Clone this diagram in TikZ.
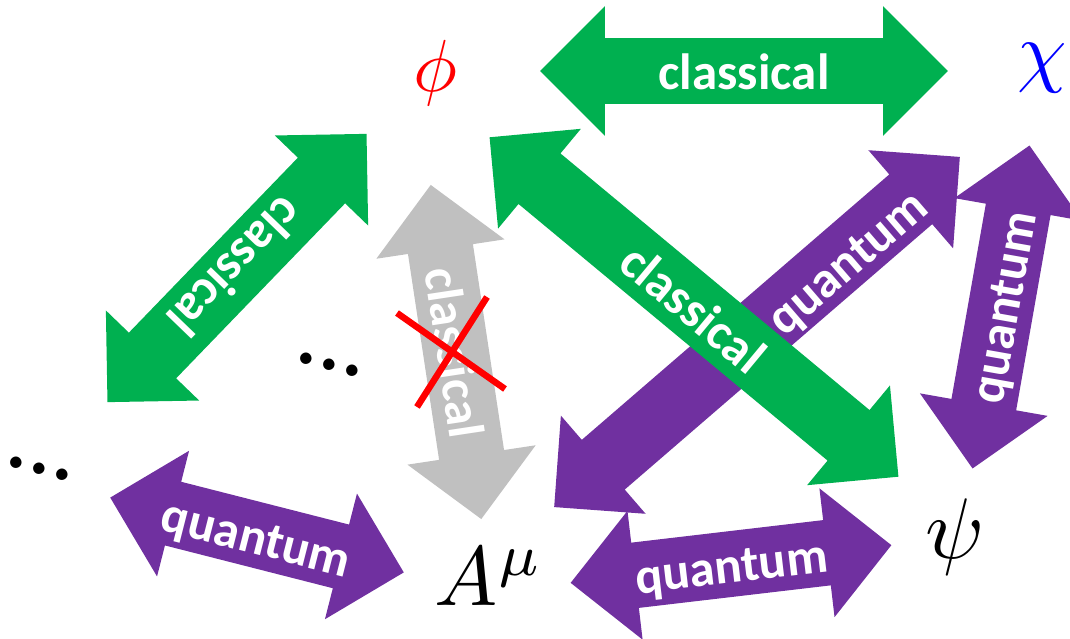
\documentclass[tikz,border=0pt]{standalone}
\usepackage{fontspec}
\usepackage{tikz}
\usetikzlibrary{shapes.arrows}
\newfontfamily\calfont{Carlito}
\definecolor{clgreen}{HTML}{00B050}
\definecolor{qpurple}{HTML}{7030A0}
\definecolor{fadegray}{HTML}{C0C0C0}
\definecolor{crossred}{HTML}{FF0000}
\definecolor{chiblue}{HTML}{0000FF}

\begin{document}
\begin{tikzpicture}[x=0.02cm, y=-0.02cm,
  arrtext/.style={text=white, inner ysep=0.1cm, inner xsep=0pt, text height=0.93cm, text depth=0.17cm,
    font=\calfont\bfseries\fontsize{29}{30}\selectfont},
  dblarr/.style={arrtext, double arrow, double arrow head extend=0.64cm, double arrow tip angle=90, minimum width=0pt},
  clarr/.style={dblarr, fill=clgreen},
  quarr/.style={dblarr, fill=qpurple},
  field/.style={inner sep=0pt, scale=#1},
  field/.default=4.8]
  \path[use as bounding box] (0,0) rectangle (1070,638);
  \clip (0,0) rectangle (1070,638);

  % Pole
  \node[field=4.2, text=crossred] (phi) at (435,73) {$\phi$};
  \node[field=4.5, text=chiblue] (chi) at (1042,68) {$\chi$};
  \node[field=4.9] (psi) at (955,537) {$\psi$};
  \node[field] (amu) at (489,577) {$A^\mu$};
  \node[rotate=-15, font=\calfont\fontsize{54}{56}\selectfont] (dotsA) at (329,365) {...};
  \node[rotate=-15, font=\calfont\fontsize{54}{56}\selectfont] (dotsB) at (39,469) {...};

  % Kvantove vazby
  \node[quarr, rotate=40.8, minimum height=10.72cm] (quDiag) at (757,332) {};
  \node[arrtext, rotate=40.8] (quDiagLbl) at (845,260) {quantum};
  \node[quarr, rotate=80, minimum height=6.56cm] (quRight) at (1001,307) {quantum};
  \node[quarr, rotate=-14.3, minimum height=6.06cm] (quLeft) at (257,535) {quantum};
  \node[quarr, rotate=6.7, minimum height=6.46cm] (quBottom) at (731,564) {quantum};

  % Klasicke vazby
  \node[clarr, minimum height=8.16cm] (clTop) at (744,71) {classical};
  \node[clarr, rotate=226, minimum height=7.46cm] (clLeft) at (237,268) {classical};
  \node[clarr, rotate=-39.7, minimum height=10.63cm] (clDiag) at (694,307) {classical};
  \node[dblarr, fill=fadegray, rotate=-81.4, minimum height=6.76cm] (clGray) at (456,352) {classical};

  % Skrtnuto
  \draw[crossred, line width=0.13cm] (397,313) -- (505,389);
  \draw[crossred, line width=0.13cm] (487,297) -- (417,407);
\end{tikzpicture}
\end{document}
